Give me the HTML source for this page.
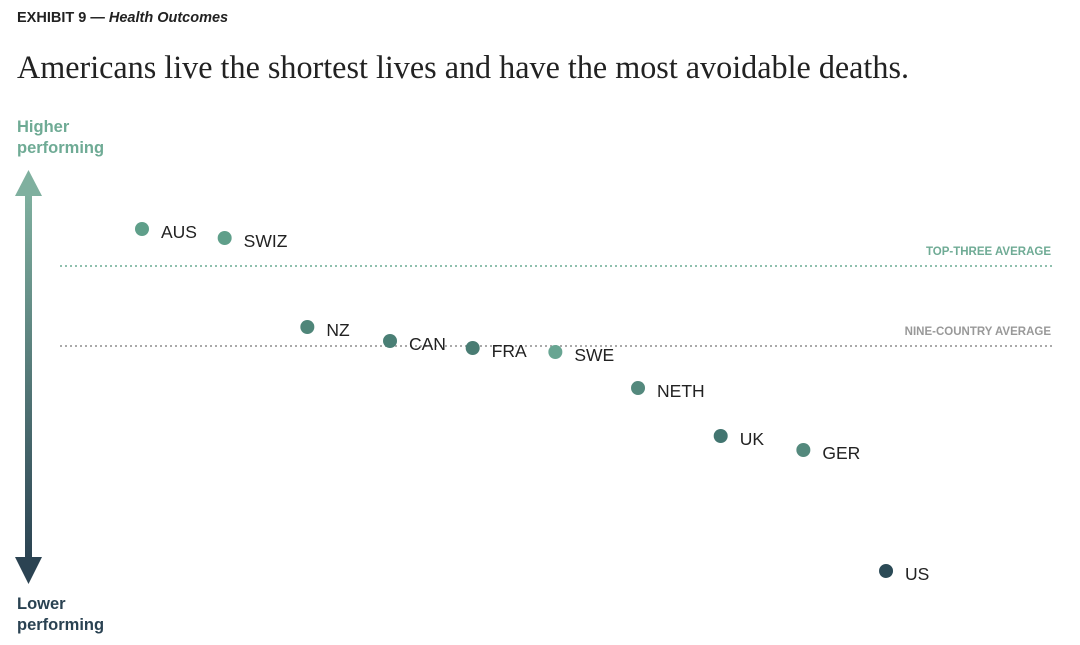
<!DOCTYPE html>
<html><head><meta charset="utf-8"><style>
body{margin:0;width:1080px;height:645px;background:#fff;overflow:hidden;font-family:"Liberation Sans",sans-serif}
svg{display:block}
</style></head><body>
<svg id="chart" width="1080" height="645" viewBox="0 0 1080 645">
<defs><linearGradient id="ag" x1="0" y1="0" x2="0" y2="1">
<stop offset="0" stop-color="#7fb09f"/><stop offset="1" stop-color="#2b4352"/></linearGradient></defs>
<text x="17" y="22" font-size="14.5" font-weight="bold" fill="#222">EXHIBIT 9 — <tspan font-style="italic" font-weight="bold">Health Outcomes</tspan></text>
<text x="17" y="78" font-family="Liberation Serif,serif" font-size="33" textLength="892" lengthAdjust="spacingAndGlyphs" fill="#222">Americans live the shortest lives and have the most avoidable deaths.</text>
<text font-size="16.5" font-weight="bold" fill="#6fab95"><tspan x="17" y="132">Higher</tspan><tspan x="17" y="153">performing</tspan></text>
<text font-size="16.5" font-weight="bold" fill="#2a4252"><tspan x="17" y="609">Lower</tspan><tspan x="17" y="630">performing</tspan></text>
<g>
<rect x="25" y="193" width="7" height="365" fill="url(#ag)"/>
<polygon points="28.5,170 15,196 42,196" fill="#7fb09f"/>
<polygon points="28.5,584 15,557 42,557" fill="#2b4352"/>
</g>
<g id="refs"></g>
<g id="pts"></g>
</svg>
<script>
const countries=["AUS","SWIZ","NZ","CAN","FRA","SWE","NETH","UK","GER","US"];
const ranks=[1,2,3,4,5,6,7,8,9,10];
const scores=[3.71,3.62,2.73,2.59,2.52,2.48,2.12,1.64,1.50,0.29];
const colors=["#5f9f8a","#5f9f8a","#4f8679","#4a7f75","#497c73","#68a592","#54897d","#427570","#54897d","#2b4a56"];
const refNames=["TOP-THREE AVERAGE","NINE-COUNTRY AVERAGE"];
const refValues=[3.34,2.54];
const refColors=["#6fab95","#999"];
const xS=r=>142+(r-1)*82.67;
const yS=v=>600-v*100;
const NS="http://www.w3.org/2000/svg";
const refs=document.getElementById('refs'),pts=document.getElementById('pts');
refValues.forEach((v,i)=>{
 const l=document.createElementNS(NS,'line');
 
 
 l.setAttribute('x1',60);l.setAttribute('x2',1055);l.setAttribute('y1',yS(v));l.setAttribute('y2',yS(v));
 l.setAttribute('stroke',i==0?'#8fc0ae':'#aaa');l.setAttribute('stroke-width',2);l.setAttribute('stroke-dasharray','2 3');
 refs.appendChild(l);
 const t=document.createElementNS(NS,'text');
 
 
 t.setAttribute('x',1051);t.setAttribute('y',yS(v)-11);t.setAttribute('text-anchor','end');
 t.setAttribute('font-size','11.5');t.setAttribute('font-weight','bold');t.setAttribute('fill',refColors[i]);
 t.textContent=refNames[i];refs.appendChild(t);
});
countries.forEach((c,i)=>{
 const x=xS(ranks[i]),y=yS(scores[i]);
 const d=document.createElementNS(NS,'circle');
 
 
 d.setAttribute('cx',x);d.setAttribute('cy',y);d.setAttribute('r',7);d.setAttribute('fill',colors[i]);
 pts.appendChild(d);
 const t=document.createElementNS(NS,'text');
 
 
 t.setAttribute('x',x+19);t.setAttribute('y',y+9);t.setAttribute('font-size','17.5');t.setAttribute('fill','#222');
 t.textContent=c;pts.appendChild(t);
});
</script>
</body></html>
